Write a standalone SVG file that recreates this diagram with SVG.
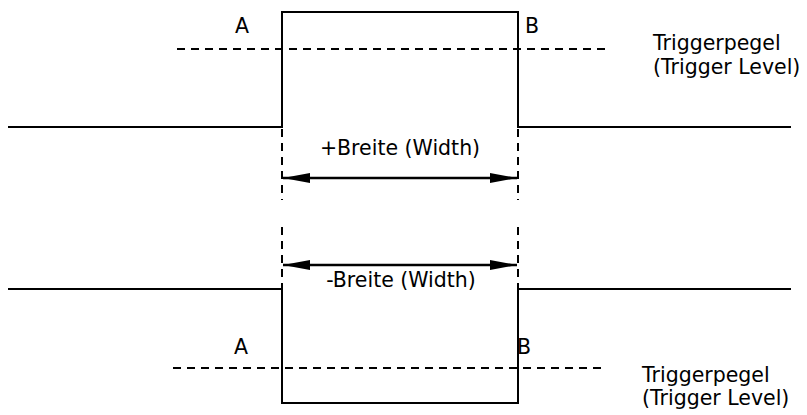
<svg xmlns="http://www.w3.org/2000/svg" width="807" height="415" viewBox="0 0 807 415">
<style>
.sig{fill:none;stroke:#000;stroke-width:2}
.dash{fill:none;stroke:#000;stroke-width:2;stroke-dasharray:8 6}
.vdash{fill:none;stroke:#000;stroke-width:2;stroke-dasharray:8 6}
.arr{stroke:#000;stroke-width:2.5;marker-start:url(#ah);marker-end:url(#ah)}
text{font-family:"DejaVu Sans","Verdana",sans-serif;font-size:20.5px;fill:#000}
</style>
<defs>
<marker id="ah" viewBox="0 0 27 10" refX="27" refY="5" markerWidth="27" markerHeight="10" markerUnits="userSpaceOnUse" orient="auto-start-reverse">
<path d="M0,0 L27,5 L0,10 Z" fill="#000"/>
</marker>
</defs>
<g id="pos-pulse">
<path class="sig" d="M8,127 H282 V12 H518 V127 H791"/>
<line class="dash" x1="177" y1="49" x2="605" y2="49"/>
<text x="235" y="33">A</text>
<text x="525" y="33">B</text>
<text x="653" y="50">Triggerpegel</text>
<text x="653" y="74">(Trigger Level)</text>
<text x="400" y="155" text-anchor="middle">+Breite (Width)</text>
</g>
<g id="neg-pulse">
<path class="sig" d="M8,289 H282 V403 H518 V289 H791"/>
<line class="dash" x1="173" y1="368" x2="602" y2="368"/>
<text x="234" y="354">A</text>
<text x="517" y="354">B</text>
<text x="642" y="382">Triggerpegel</text>
<text x="642" y="405">(Trigger Level)</text>
<text x="401" y="287" text-anchor="middle">-Breite (Width)</text>
</g>
<g id="connectors">
<line class="vdash" x1="282" y1="129" x2="282" y2="200"/>
<line class="vdash" x1="518" y1="129" x2="518" y2="200"/>
<line class="vdash" x1="282" y1="227" x2="282" y2="289"/>
<line class="vdash" x1="518" y1="227" x2="518" y2="289"/>
<line class="arr" x1="283" y1="178" x2="517" y2="178"/>
<line class="arr" x1="283" y1="265" x2="517" y2="265"/>
</g>
</svg>
